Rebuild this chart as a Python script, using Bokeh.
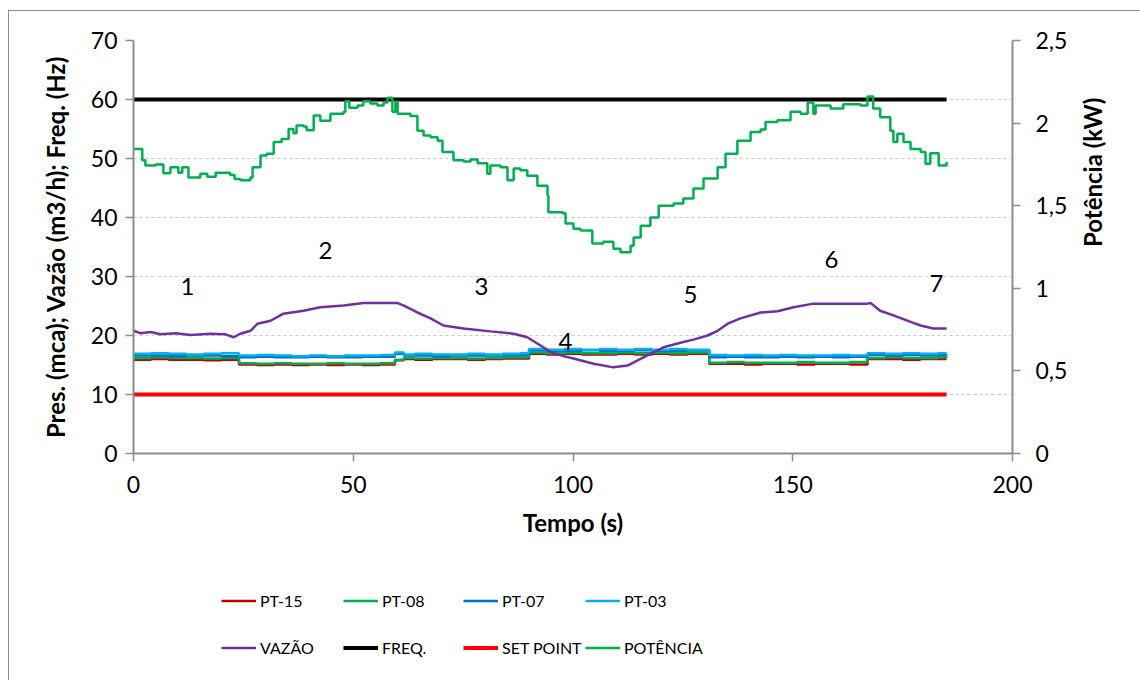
import math
from bokeh.plotting import figure
from bokeh.layouts import column
from bokeh.models import (Range1d, LinearAxis, FixedTicker, CustomJSTickFormatter,
                          Legend, LegendItem, ColumnDataSource)
from bokeh.core.properties import value
from bokeh.embed import file_html
from bokeh.resources import INLINE

# ---------------- data ----------------
x_ticks = [0, 50, 100, 150, 200]
y_ticks = [0, 10, 20, 30, 40, 50, 60, 70]
pw_ticks = [0, 0.5, 1.0, 1.5, 2.0, 2.5]

# pressures (mca)
t_pres = [0, 4, 8, 12, 16, 20, 24, 28, 32, 36, 40, 44, 48, 52, 56, 59.5, 61.5, 64, 68, 72,
          76, 80, 84, 88, 90, 94, 98, 102, 106, 110, 114, 118, 122, 126, 131, 135, 139, 143,
          147, 151, 155, 159, 163, 167, 171, 175, 179, 183, 185]
pt03 = [16.9, 17.0, 16.9, 16.8, 16.9, 17.0, 16.6, 16.7, 16.6, 16.5, 16.6, 16.5, 16.6, 16.6, 16.7,
        17.1, 16.8, 16.9, 16.8, 16.8, 16.9, 16.8, 16.9, 17.0, 17.7, 17.6, 17.7, 17.6, 17.7, 17.6,
        17.7, 17.6, 17.7, 17.6, 16.7, 16.6, 16.7, 16.6, 16.7, 16.6, 16.6, 16.7, 16.6, 17.0, 16.9,
        17.0, 16.9, 17.0, 17.0]
pt07 = [16.6, 16.6, 16.5, 16.6, 16.6, 16.5, 16.3, 16.4, 16.3, 16.3, 16.4, 16.3, 16.3, 16.4, 16.4,
        16.9, 16.6, 16.6, 16.5, 16.6, 16.6, 16.6, 16.7, 16.7, 17.5, 17.4, 17.4, 17.5, 17.4, 17.4,
        17.5, 17.4, 17.4, 17.5, 16.3, 16.4, 16.3, 16.3, 16.4, 16.3, 16.4, 16.3, 16.4, 16.7, 16.6,
        16.7, 16.6, 16.7, 16.6]
pt08 = [16.2, 16.3, 16.2, 16.2, 16.1, 16.2, 15.3, 15.2, 15.3, 15.2, 15.2, 15.3, 15.2, 15.2, 15.3,
        15.9, 16.2, 16.1, 16.2, 16.2, 16.1, 16.2, 16.3, 16.3, 17.1, 17.0, 17.1, 17.0, 17.0, 17.1,
        17.0, 17.1, 17.0, 17.1, 15.4, 15.5, 15.4, 15.4, 15.4, 15.5, 15.4, 15.4, 15.5, 16.2, 16.3,
        16.2, 16.2, 16.3, 16.2]
pt15 = [15.9, 16.0, 15.9, 15.9, 15.8, 15.9, 15.1, 15.0, 15.1, 15.0, 15.1, 15.0, 15.1, 15.0, 15.1,
        15.8, 16.0, 15.9, 16.0, 16.0, 15.9, 16.0, 16.1, 16.1, 16.9, 16.8, 16.9, 16.8, 16.8, 16.9,
        16.8, 16.9, 16.8, 16.9, 15.2, 15.2, 15.1, 15.2, 15.2, 15.1, 15.2, 15.2, 15.1, 16.0, 16.0,
        15.9, 16.0, 16.0, 16.0]

# flow (m3/h)
t_vaz = [0, 1.6, 3.9, 6.1, 9.6, 13.0, 17.5, 20.9, 22.8, 24.3, 26.6, 28.2, 31.2, 34.1, 38.7,
         42.5, 47.8, 52.3, 60.1, 61.4, 64.6, 67.6, 70.5, 75.1, 81.2, 86.5, 89.6, 92.6, 94.9,
         97.8, 100.1, 104.7, 109.2, 112.4, 114.7, 117.6, 120.6, 125.1, 127.4, 130.6, 132.9,
         135.2, 138.1, 142.7, 146.5, 150.2, 154.7, 167.0, 167.7, 169.9, 172.9, 176.8, 179.1,
         182.0, 185.0]
vazao = [20.8, 20.4, 20.6, 20.2, 20.4, 20.1, 20.3, 20.2, 19.7, 20.3, 20.8, 22.0, 22.5, 23.7, 24.2,
         24.8, 25.1, 25.5, 25.5, 25.1, 23.9, 22.9, 21.7, 21.2, 20.7, 20.3, 19.7, 18.3, 17.2, 16.5,
         16.1, 15.2, 14.6, 14.9, 15.8, 16.9, 18.0, 18.9, 19.3, 20.0, 20.8, 22.0, 22.9, 23.9, 24.1,
         24.8, 25.4, 25.4, 25.5, 24.2, 23.4, 22.3, 21.7, 21.2, 21.2]

# power (kW, right axis)
t_pot = [0, 2.0, 2.7, 5.0, 6.8, 8.4, 10.2, 11.1, 12.5, 15.2, 16.8, 18.7, 22.0, 23.0, 24.3, 26.6,
         27.1, 28.9, 30.3, 31.9, 33.7, 35.3, 36.4, 37.1, 38.7, 39.4, 41.0, 42.5, 44.8, 47.8, 48.2,
         49.1, 51.0, 52.3, 53.9, 55.5, 56.9, 57.8, 58.9, 59.6, 60.1, 63.0, 64.6, 66.0, 67.6, 69.2,
         70.3, 72.8, 75.1, 76.7, 78.3, 80.5, 81.2, 83.5, 85.1, 86.5, 88.0, 89.6, 91.9, 94.2, 94.4,
         97.6, 98.3, 100.1, 101.7, 104.4, 106.9, 109.2, 110.8, 113.1, 113.8, 115.4, 117.6, 119.5,
         122.9, 125.1, 127.4, 129.7, 132.9, 134.7, 137.4, 140.4, 142.7, 143.8, 146.5, 149.5, 151.8,
         153.4, 154.7, 155.2, 158.6, 161.5, 165.4, 167.0, 168.3, 169.9, 172.2, 172.9, 173.8, 175.2,
         176.8, 179.1, 180.2, 181.3, 183.2, 185.0]
potencia = [1.843, 1.775, 1.743, 1.750, 1.696, 1.732, 1.700, 1.732, 1.671, 1.693,
            1.675, 1.700, 1.686, 1.661, 1.654, 1.671, 1.732, 1.804, 1.814, 1.886,
            1.904, 1.964, 1.939, 1.986, 1.979, 1.957, 2.046, 2.014, 2.057, 2.068,
            2.132, 2.093, 2.107, 2.132, 2.118, 2.107, 2.125, 2.154, 2.068, 2.129,
            2.057, 2.043, 1.954, 1.925, 1.914, 1.893, 1.825, 1.775, 1.768, 1.779,
            1.757, 1.693, 1.743, 1.732, 1.654, 1.725, 1.714, 1.682, 1.621, 1.561,
            1.461, 1.454, 1.393, 1.361, 1.350, 1.271, 1.282, 1.239, 1.218, 1.257,
            1.307, 1.379, 1.429, 1.500, 1.514, 1.543, 1.604, 1.664, 1.732, 1.814,
            1.893, 1.946, 1.961, 2.007, 2.018, 2.068, 2.057, 2.125, 2.057, 2.107,
            2.089, 2.114, 2.107, 2.161, 2.089, 2.036, 1.954, 1.886, 1.936, 1.886,
            1.843, 1.825, 1.754, 1.818, 1.743, 1.764]

# constant series
t_const = [0, 185]
freq = [60, 60]
set_point = [10, 10]

# phase markers
marker_labels = ["1", "2", "3", "4", "5", "6", "7"]
marker_t = [12.3, 43.7, 79.2, 98.3, 126.7, 158.8, 182.7]
marker_y = [28.3, 34.4, 28.3, 19.0, 26.9, 32.9, 28.8]

# legend layout: 4 columns x 2 rows
legend_columns = [["PT-15", "VAZÃO"], ["PT-08", "FREQ."], ["PT-07", "SET POINT"], ["PT-03", "POTÊNCIA"]]

# ---------------- styles ----------------
FONT = "Lato"
AX = "#8c8c8c"
styles_spec = {
    "PT-15": dict(line_color="#C00000", line_width=2.5),
    "PT-08": dict(line_color="#00B050", line_width=2.5),
    "PT-07": dict(line_color="#0070C0", line_width=2.5),
    "PT-03": dict(line_color="#00B0F0", line_width=2.5),
    "VAZÃO": dict(line_color="#7030A0", line_width=2.5),
    "FREQ.": dict(line_color="#000000", line_width=4),
    "SET POINT": dict(line_color="#FF0000", line_width=4),
    "POTÊNCIA": dict(line_color="#00B050", line_width=2.5),
}

MAIN_H = 560
LEG_H = 680 - MAIN_H
FRAME_LEFT = 133

p = figure(width=1140, height=MAIN_H, x_range=Range1d(0, 200), y_range=Range1d(0, 70),
           output_backend="svg", toolbar_location=None,
           min_border_left=FRAME_LEFT, min_border_right=128, min_border_top=40,
           min_border_bottom=MAIN_H - 453)
p.extra_y_ranges = {"pw": Range1d(0, 2.5)}
p.outline_line_color = None
p.border_fill_color = None
p.background_fill_color = "white"
p.styles = {
    "background-color": "white",
    "background-image": "linear-gradient(#8c8c8c,#8c8c8c), linear-gradient(#8c8c8c,#8c8c8c)",
    "background-size": "100% 1px, 1px 100%",
    "background-position": "8px 10px, 8px 10px",
    "background-repeat": "no-repeat",
}

def style_axis(ax, standoff, lab_standoff):
    ax.axis_line_color = AX
    ax.axis_line_width = 2
    ax.major_tick_line_color = AX
    ax.major_tick_line_width = 1.5
    ax.major_tick_out = 8
    ax.major_tick_in = 0
    ax.minor_tick_line_color = None
    ax.major_label_text_font = FONT
    ax.major_label_text_font_size = "23px"
    ax.major_label_text_color = "#000000"
    ax.major_label_standoff = standoff
    ax.axis_label_text_font = FONT
    ax.axis_label_text_font_size = "24px"
    ax.axis_label_text_font_style = "bold"
    ax.axis_label_text_color = "#000000"
    ax.axis_label_standoff = lab_standoff

p.xaxis.ticker = FixedTicker(ticks=x_ticks)
p.xaxis.axis_label = "Tempo (s)"
style_axis(p.xaxis[0], 14, 12)
p.yaxis.ticker = FixedTicker(ticks=y_ticks)
p.yaxis.axis_label = "Pres. (mca); Vazão (m3/h); Freq. (Hz)"
style_axis(p.yaxis[0], 8, 18)

ax_r = LinearAxis(y_range_name="pw", ticker=FixedTicker(ticks=pw_ticks),
                  formatter=CustomJSTickFormatter(code="return tick.toString().replace('.', ',');"),
                  axis_label="Potência (kW)")
style_axis(ax_r, 15, 22)
try:
    ax_r.axis_label_orientation = math.pi / 2
except Exception:
    pass
p.add_layout(ax_r, "right")

p.xgrid.visible = False
p.ygrid.grid_line_color = "#c8c8c8"
p.ygrid.grid_line_dash = "3 3"
p.ygrid.grid_line_width = 1

# ---------------- series ----------------
src_p = ColumnDataSource(dict(t=t_pres, pt15=pt15, pt08=pt08, pt07=pt07, pt03=pt03))
p.step("t", "pt15", source=src_p, mode="after", **styles_spec["PT-15"])
p.step("t", "pt08", source=src_p, mode="after", **styles_spec["PT-08"])
p.step("t", "pt07", source=src_p, mode="after", **styles_spec["PT-07"])
p.step("t", "pt03", source=src_p, mode="after", **styles_spec["PT-03"])
p.line(t_vaz, vazao, **styles_spec["VAZÃO"])
p.line(t_const, freq, **styles_spec["FREQ."])
p.line(t_const, set_point, **styles_spec["SET POINT"])
p.step(t_pot, potencia, mode="after", y_range_name="pw", **styles_spec["POTÊNCIA"])

p.text(x=marker_t, y=marker_y, text=marker_labels, text_font=value(FONT),
       text_font_size=value("24px"), text_align="center", text_baseline="middle",
       text_color="#000000")

# ---------------- legend strip ----------------
pl = figure(width=1140, height=LEG_H, x_range=Range1d(0, 1), y_range=Range1d(0, 1),
            output_backend="svg", toolbar_location=None, min_border=0)
pl.axis.visible = False
pl.grid.visible = False
pl.outline_line_color = None
pl.border_fill_color = None
pl.background_fill_color = None
pl.styles = {
    "background-color": "white",
    "background-image": "linear-gradient(#8c8c8c,#8c8c8c)",
    "background-size": "1px 100%",
    "background-position": "8px 0px",
    "background-repeat": "no-repeat",
}

NAN = float("nan")
col_x = [221, 343, 463, 585]          # page x of each legend column's glyph
row1_center = 600 - MAIN_H
leg_y = LEG_H - (row1_center - 23.5 + 94)
for cx, labels in zip(col_x, legend_columns):
    items = []
    for lab in labels:
        r = pl.line(x=[NAN, NAN], y=[NAN, NAN], **styles_spec[lab])
        items.append(LegendItem(label=lab, renderers=[r]))
    leg = Legend(items=items, location=(cx - FRAME_LEFT, leg_y), orientation="vertical",
                 glyph_width=35, glyph_height=47, label_height=47,
                 label_standoff=4, spacing=0, padding=0, margin=0,
                 border_line_color=None, background_fill_alpha=0,
                 label_text_font=FONT, label_text_font_size="16px", label_text_color="#000000")
    pl.add_layout(leg)

layout = column(p, pl, spacing=0)
open("out.html", "w").write(file_html(layout, INLINE))
